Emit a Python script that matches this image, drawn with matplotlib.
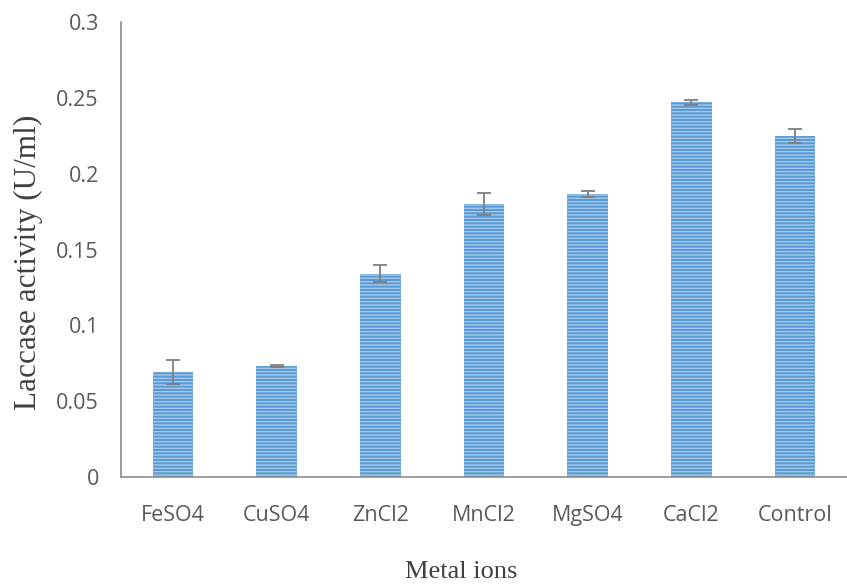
import matplotlib
matplotlib.use("Agg")
import matplotlib.pyplot as plt

categories = ["FeSO4", "CuSO4", "ZnCl2", "MnCl2", "MgSO4", "CaCl2", "Control"]
values = [0.069, 0.073, 0.134, 0.180, 0.1865, 0.247, 0.225]
errors = [0.008, 0.0006, 0.0055, 0.007, 0.002, 0.0015, 0.0045]
yticks = [0, 0.05, 0.1, 0.15, 0.2, 0.25, 0.3]
ytick_labels = ["0", "0.05", "0.1", "0.15", "0.2", "0.25", "0.3"]

plt.rcParams['hatch.linewidth'] = 0.9

fig = plt.figure(figsize=(8.47, 5.84), dpi=100)
ax = fig.add_axes([121/847, 1-477/584, 1-121/847, (477-22)/584])

x = list(range(len(categories)))
ax.bar(x, values, width=0.39, color="#5B9BD5", edgecolor="#A7CBEC",
       hatch="-----", linewidth=0, zorder=2)
ax.errorbar(x, values, yerr=errors, fmt="none", ecolor="#7F7F7F",
            elinewidth=1.3, capsize=5, capthick=1.3, zorder=3)

ax.set_xlim(-0.5, len(categories) - 0.5)
ax.set_ylim(0, 0.3)
ax.set_yticks(yticks)
ax.set_yticklabels(ytick_labels)
ax.set_xticks(x)
ax.set_xticklabels(categories)

for lab in ax.get_xticklabels() + ax.get_yticklabels():
    lab.set_fontfamily(["Open Sans", "DejaVu Sans"])
    lab.set_fontsize(15.5)
    lab.set_color("#595959")

ax.tick_params(axis="both", length=0)
ax.tick_params(axis="x", pad=20)
ax.tick_params(axis="y", pad=16)

for s in ["top", "right"]:
    ax.spines[s].set_visible(False)
for s in ["left", "bottom"]:
    ax.spines[s].set_color("#8C8C8C")
    ax.spines[s].set_linewidth(1.2)

fig.text(461/847, 1-572/584, "Metal ions", family="Liberation Serif",
         fontsize=19, color="#404040", ha="center", va="center")
fig.text(28/847, 1-262/584, "Laccase activity (U/ml)", family="Liberation Serif",
         fontsize=22.5, color="#404040", ha="center", va="center", rotation=90)

fig.savefig("out.png", dpi=100)
